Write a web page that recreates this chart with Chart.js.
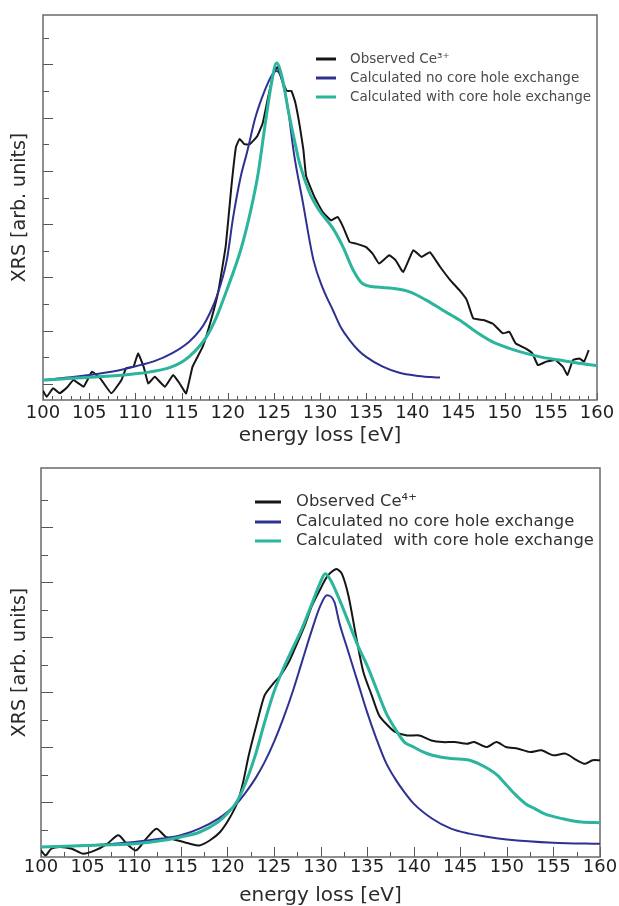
<!DOCTYPE html>
<html><head><meta charset="utf-8">
<script src="https://cdn.jsdelivr.net/npm/chart.js@4.4.0/dist/chart.umd.min.js"></script>
<style>
html,body{margin:0;padding:0;background:#fff;overflow:hidden;width:619px;height:906px;}
#top{position:absolute;left:0;top:0;width:619px;height:450px;}
#bot{position:absolute;left:0;top:450px;width:619px;height:458px;}
</style></head><body>
<div id="top"><canvas id="c1" width="619" height="450"></canvas></div>
<div id="bot"><canvas id="c2" width="619" height="458"></canvas></div>
<script>
// ---------- shared text ----------
const xTickLabels = ['100','105','110','115','120','125','130','135','140','145','150','155','160'];
const xTitle = 'energy loss [eV]';
const yTitle = 'XRS [arb. units]';

// ---------- top panel: Ce3+ ----------
const ce3Labels = ['Observed Ce\u00B3\u207A', 'Calculated no core hole exchange', 'Calculated with core hole exchange'];
const ce3ObsE = [100.0,100.4,101.1,101.8,102.6,103.3,104.4,105.3,106.2,107.4,108.5,109.0,109.8,110.3,110.9,111.4,112.1,113.2,114.1,114.8,115.5,116.2,117.3,118.2,119.0,119.8,120.4,120.9,121.3,121.8,122.4,123.2,123.8,124.4,125.0,125.4,125.9,126.4,126.9,127.3,127.8,128.2,128.5,129.4,130.3,131.2,131.9,132.5,133.2,133.9,135.0,135.7,136.4,137.5,138.2,139.0,140.1,141.0,141.9,143.0,144.1,145.1,145.9,146.6,147.7,148.7,149.8,150.5,151.2,152.3,153.0,153.6,154.5,155.5,156.3,156.8,157.4,158.1,158.6,159.1];
const ce3ObsY = [0.35,0.12,0.44,0.25,0.47,0.75,0.50,1.06,0.81,0.25,0.75,1.19,1.25,1.75,1.25,0.62,0.87,0.50,0.94,0.62,0.25,1.25,2.00,3.0,4.1,5.8,8.0,9.5,9.8,9.6,9.6,9.9,10.4,11.4,12.3,12.5,12.0,11.6,11.6,11.2,10.3,9.4,8.4,7.62,7.05,6.74,6.87,6.5,5.93,5.87,5.74,5.49,5.12,5.43,5.24,4.8,5.62,5.37,5.55,5.0,4.5,4.12,3.75,3.06,3.0,2.87,2.5,2.56,2.12,1.93,1.75,1.31,1.44,1.5,1.25,0.94,1.5,1.56,1.44,1.87];
const ce3NoXE = [100,103,105,108,110.5,112,114,115.8,117,117.7,118.8,119.9,120.6,121.4,122.1,123,124,124.8,125.3,125.8,126.5,127.2,128.1,129.3,130.3,131.4,132.3,133.2,134.2,135,136.8,138.6,140.4,142,143];
const ce3NoXY = [0.75,0.85,0.94,1.10,1.31,1.45,1.76,2.18,2.62,3.0,3.87,5.24,6.87,8.36,9.3,10.6,11.6,12.2,12.35,12.1,11.0,9.2,7.5,5.24,4.2,3.37,2.7,2.25,1.85,1.62,1.25,1.02,0.91,0.86,0.84];
const ce3XE = [100,105,110.5,114,115.8,117.7,118.8,119.9,121.4,122.5,123.3,124,124.7,125.3,125.9,126.6,127.2,127.8,128.9,129.9,131.4,132.5,133.6,134.6,136.1,137.9,139.7,141.5,143.3,145.1,146.9,148.7,150.5,152.3,154.1,155.9,157.7,160];
const ce3XY = [0.75,0.85,1.0,1.25,1.62,2.37,3.12,4.12,5.62,7.12,8.5,10.2,11.8,12.65,12.1,10.8,9.8,8.87,7.75,7.12,6.44,5.74,4.87,4.37,4.24,4.19,4.06,3.75,3.37,3.0,2.56,2.18,1.94,1.75,1.6,1.5,1.4,1.29];
const ce3YTicks = [0.6,1.6,2.6,3.6,4.6,5.6,6.6,7.6,8.6,9.6,10.6,11.6,12.6,13.6];

// ---------- bottom panel: Ce4+ ----------
const ce4Labels = ['Observed Ce\u2074\u207A', 'Calculated no core hole exchange', 'Calculated  with core hole exchange'];
const ce4ObsE = [100.0,100.5,101.1,102.0,103.3,104.5,105.8,107.1,108.3,109.2,110.2,111.3,112.4,113.4,114.7,116.0,117.0,118.1,119.2,120.2,121.1,121.7,122.3,123.2,124.0,124.9,125.7,126.6,127.4,128.3,129.1,130.0,130.8,131.7,132.3,133.0,133.8,134.6,135.5,136.3,137.2,138.0,139.3,140.6,141.9,143.1,144.4,145.7,146.5,147.8,148.9,149.9,151.2,152.5,153.7,155.0,156.3,157.5,158.4,159.2,160.0];
const ce4ObsY = [0.24,0.06,0.30,0.36,0.30,0.12,0.24,0.48,0.79,0.48,0.24,0.67,1.03,0.73,0.60,0.48,0.42,0.60,0.90,1.39,2.00,2.73,3.70,4.90,5.88,6.30,6.60,7.09,7.70,8.42,9.15,9.76,10.24,10.48,10.30,9.50,8.06,6.73,5.88,5.15,4.79,4.55,4.42,4.42,4.24,4.18,4.18,4.12,4.18,4.00,4.18,4.00,3.94,3.82,3.88,3.70,3.76,3.52,3.39,3.52,3.52];
const ce4NoXE = [100,105,110,113,115,117,119,120,121,122,123,124,125,126,127,128,129,130,130.7,131.5,132,133,134,135,136,137,138,139,140,142,144,146,148,150,155,160];
const ce4NoXY = [0.36,0.42,0.55,0.67,0.79,1.03,1.39,1.64,1.94,2.36,2.85,3.45,4.18,5.03,6.00,7.09,8.18,9.15,9.52,9.27,8.55,7.45,6.36,5.27,4.30,3.45,2.85,2.36,1.94,1.39,1.03,0.85,0.73,0.64,0.52,0.48];
const ce4XE = [100,105,110,113,115,117,119,120,121,122,123,124,125,126,127,128,129,130,130.5,131,132,133,134,135,136,137,138,139,140,141,142,144,146,147,148,149,150,151,152,153,154,156,158,160];
const ce4XY = [0.36,0.42,0.48,0.60,0.73,0.90,1.27,1.58,2.00,2.73,3.70,4.90,6.00,6.85,7.58,8.30,9.15,10.00,10.30,10.12,9.39,8.55,7.70,6.97,6.12,5.27,4.67,4.18,4.00,3.82,3.70,3.58,3.52,3.39,3.21,2.97,2.60,2.24,1.94,1.76,1.58,1.39,1.27,1.25];
const ce4YTicks = [1,2,3,4,5,6,7,8,9,10,11,12,13];

// ---------- styling ----------
const FONT = "'DejaVu Sans', sans-serif";
const COL_OBS = '#161616', COL_NOX = '#2e3192', COL_X = '#2bb59c';

const pts = (E, Y) => E.map((e, i) => ({x: e, y: Y[i]}));

const frameTicks = {
  id: 'frameTicks',
  beforeDatasetsDraw(chart, args, o) {
    const {ctx, chartArea: a} = chart;
    const xs = chart.scales.x, ys = chart.scales.y;
    ctx.save();
    ctx.strokeStyle = o.tickColor;
    ctx.lineWidth = 1;
    ctx.beginPath();
    xs.ticks.forEach(t => {
      const px = Math.round(xs.getPixelForValue(t.value)) + 0.5;
      const major = Math.abs(t.value / 5 - Math.round(t.value / 5)) < 1e-6;
      const len = major ? o.xMajor : o.xMinor;
      ctx.moveTo(px, a.bottom); ctx.lineTo(px, a.bottom - len);
    });
    ys.ticks.forEach(t => {
      const py = Math.round(ys.getPixelForValue(t.value)) + 0.5;
      const r = (t.value - o.yMajorBase) / 2;
      const major = Math.abs(r - Math.round(r)) < 1e-6;
      const len = major ? o.yMajor : o.yMinor;
      ctx.moveTo(a.left, py); ctx.lineTo(a.left + len, py);
    });
    ctx.stroke();
    ctx.strokeStyle = o.frameColor;
    ctx.lineWidth = o.frameWidth;
    ctx.strokeRect(a.left, a.top, a.right - a.left, a.bottom - a.top);
    ctx.restore();
  },
  afterDatasetsDraw(chart, args, o) {
    const ctx = chart.ctx;
    const L = o.legend;
    ctx.save();
    ctx.font = L.fontSize + 'px ' + FONT;
    ctx.textBaseline = 'middle';
    ctx.textAlign = 'left';
    chart.data.datasets.forEach((ds, i) => {
      const y = L.rows[i];
      ctx.strokeStyle = ds.borderColor;
      ctx.lineWidth = 3;
      ctx.beginPath();
      ctx.moveTo(L.lineX1, y); ctx.lineTo(L.lineX2, y);
      ctx.stroke();
      ctx.fillStyle = L.color;
      ctx.fillText(ds.label, L.textX, y);
    });
    ctx.restore();
  }
};

function makeChart(id, labels, series, yMax, yTicks, geo) {
  const datasets = [
    {label: labels[0], data: pts(series[0][0], series[0][1]), borderColor: COL_OBS, borderWidth: 2, tension: geo.obsTension, order: 3},
    {label: labels[1], data: pts(series[1][0], series[1][1]), borderColor: COL_NOX, borderWidth: 2, cubicInterpolationMode: 'monotone', order: 2},
    {label: labels[2], data: pts(series[2][0], series[2][1]), borderColor: COL_X, borderWidth: 3, cubicInterpolationMode: 'monotone', order: 1}
  ];
  return new Chart(document.getElementById(id), {
    type: 'line',
    data: {datasets},
    plugins: [frameTicks],
    options: {
      responsive: false,
      animation: false,
      devicePixelRatio: 1,
      layout: {padding: {top: geo.top, right: geo.right, left: 0, bottom: 0}},
      elements: {point: {radius: 0}, line: {fill: false}},
      plugins: {
        legend: {display: false},
        tooltip: {enabled: false},
        frameTicks: {
          tickColor: '#555', frameColor: '#6a6a6a', frameWidth: 1.5,
          xMajor: geo.xMajor, xMinor: geo.xMinor, yMajor: geo.yMajor, yMinor: geo.yMinor,
          yMajorBase: geo.yMajorBase,
          legend: geo.legend
        }
      },
      scales: {
        x: {
          type: 'linear', min: 100, max: 160,
          grid: {display: false, drawTicks: false},
          border: {display: false},
          ticks: {
            stepSize: geo.xStep, autoSkip: false, maxRotation: 0, padding: geo.tickPad,
            color: '#1e1e1e', font: {family: FONT, size: 18},
            callback: (v) => { const s = String(v); return xTickLabels.includes(s) ? s : ''; }
          },
          title: {display: true, text: xTitle, color: '#2a2a2a', font: {family: FONT, size: 20}, padding: {top: 0, bottom: geo.titlePad}},
          afterFit: (s) => { s.height = geo.xAxisH; }
        },
        y: {
          type: 'linear', min: 0, max: yMax,
          grid: {display: false, drawTicks: false},
          border: {display: false},
          ticks: {display: false},
          afterBuildTicks: (s) => { s.ticks = yTicks.map(v => ({value: v})); },
          title: {display: true, text: yTitle, color: '#2a2a2a', font: {family: FONT, size: 19}, padding: {top: 9, bottom: 0}},
          afterFit: (s) => { s.width = geo.left; }
        }
      }
    }
  });
}

makeChart('c1', ce3Labels,
  [[ce3ObsE, ce3ObsY], [ce3NoXE, ce3NoXY], [ce3XE, ce3XY]],
  14.45, ce3YTicks,
  {top: 15, right: 22, left: 43, xAxisH: 50, tickPad: 3, titlePad: 2.5, xStep: 1, obsTension: 0.1,
   xMajor: 7, xMinor: 4, yMajor: 10, yMinor: 6, yMajorBase: 0.6,
   legend: {rows: [59, 78, 97], lineX1: 316, lineX2: 336, textX: 350, fontSize: 13.5, color: '#4a4a4a'}});

makeChart('c2', ce4Labels,
  [[ce4ObsE, ce4ObsY], [ce4NoXE, ce4NoXY], [ce4XE, ce4XY]],
  14.15, ce4YTicks,
  {top: 18, right: 19, left: 41, xAxisH: 51, tickPad: 0, titlePad: 0, xStep: 2.5, obsTension: 0.25,
   xMajor: 10, xMinor: 5, yMajor: 12, yMinor: 7, yMajorBase: 0,
   legend: {rows: [52, 72, 91], lineX1: 255, lineX2: 281, textX: 296, fontSize: 16.4, color: '#333'}});
</script>
</body></html>
